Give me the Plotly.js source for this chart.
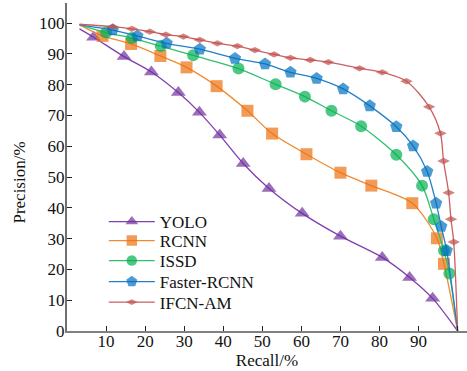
<!DOCTYPE html>
<html>
<head>
<meta charset="utf-8">
<script src="https://cdn.plot.ly/plotly-3.0.1.min.js"></script>
<style>html,body{margin:0;padding:0;background:#fff;}#chart{width:467px;height:371px;}</style>
</head>
<body>
<div id="chart"></div>
<script>
// Series names
var seriesNames = ["YOLO", "RCNN", "ISSD", "Faster-RCNN", "IFCN-AM"];

// YOLO
var yoloRecall    = [3.2, 6.8, 14.6, 21.6, 28.5, 33.9, 39.1, 45.1, 51.7, 60.2, 70.0, 80.7, 87.7, 93.6, 100];
var yoloPrecision = [98.1, 95.4, 89.1, 84.1, 77.4, 71.0, 63.6, 54.4, 46.3, 38.2, 30.8, 23.9, 17.4, 10.6, 0];

// RCNN
var rcnnRecall    = [3.2, 9.1, 16.4, 23.9, 30.6, 38.3, 46.2, 52.5, 61.3, 70.0, 77.9, 88.4, 94.7, 96.5, 100];
var rcnnPrecision = [99.4, 95.8, 93.2, 89.3, 85.6, 79.5, 71.5, 64.1, 57.4, 51.4, 47.2, 41.5, 30.1, 21.8, 0];

// ISSD
var issdRecall    = [3.2, 10.0, 16.6, 24.0, 32.3, 43.9, 53.4, 60.9, 67.7, 75.3, 84.3, 90.9, 93.9, 96.5, 97.9, 100];
var issdPrecision = [99.4, 96.9, 95.1, 92.5, 89.5, 85.2, 80.1, 76.1, 71.5, 66.5, 57.2, 47.2, 36.3, 26.1, 18.7, 0];

// Faster-RCNN
var frcnnRecall    = [3.2, 11.7, 18.0, 25.5, 34.0, 43.0, 50.7, 57.2, 63.9, 70.7, 77.5, 84.3, 88.6, 92.2, 94.5, 95.8, 97.2, 100];
var frcnnPrecision = [99.4, 97.7, 95.8, 93.4, 91.5, 88.5, 86.7, 84.0, 82.0, 78.6, 73.1, 66.3, 60.1, 51.8, 41.5, 33.9, 26.1, 0];

// IFCN-AM
var ifcnRecall    = [3.2, 11.7, 16.6, 21.2, 25.3, 29.8, 34.0, 38.5, 43.6, 48.1, 53.0, 57.2, 62.3, 66.9, 74.9, 80.7, 86.9, 92.7, 95.6, 96.4, 97.7, 98.3, 99.0, 100];
var ifcnPrecision = [99.6, 98.8, 98.1, 97.2, 96.2, 95.6, 94.5, 93.4, 92.5, 91.2, 89.8, 88.7, 88.0, 87.3, 85.3, 84.0, 81.1, 72.8, 64.2, 55.2, 44.9, 36.3, 28.9, 0];

// Tick values
var xTicks = [10, 20, 30, 40, 50, 60, 70, 80, 90, 100];
var yTicks = [0, 10, 20, 30, 40, 50, 60, 70, 80, 90, 100];

var font = "'Liberation Serif', 'Times New Roman', serif";

// marker sizes: no marker on the curve's start and end point
function sizes(n, s) {
  var a = [];
  for (var i = 0; i < n; i++) a.push(i === 0 || i === n - 1 ? 0 : s);
  return a;
}

function mk(x, y, name, color, lineColor, symbol, size, legendId) {
  return {
    x: x, y: y, name: name, type: "scatter", mode: "lines+markers",
    line: {color: lineColor, width: 1.3, shape: "spline", smoothing: 0.8},
    marker: {symbol: symbol, size: sizes(x.length, size), color: color, line: {width: 0}},
    cliponaxis: false,
    legend: legendId
  };
}

var data = [
  mk(yoloRecall, yoloPrecision, seriesNames[0], "#7030A0", "#7F3FB0", "triangle-up", 13, "legend"),
  mk(rcnnRecall, rcnnPrecision, seriesNames[1], "#ED7010", "#F18A30", "square", 12, "legend2"),
  mk(issdRecall, issdPrecision, seriesNames[2], "#00B050", "#30C070", "circle", 12, "legend3"),
  mk(frcnnRecall, frcnnPrecision, seriesNames[3], "#0070C0", "#2080CC", "pentagon", 13, "legend4"),
  mk(ifcnRecall, ifcnPrecision, seriesNames[4], "#C0504D", "#C86060", "diamond-wide", 9, "legend5")
];

function leg(yc) {
  return {
    x: 0.092, y: (331 - yc) / 328, xanchor: "left", yanchor: "middle",
    bgcolor: "rgba(0,0,0,0)", borderwidth: 0,
    font: {family: font, size: 17, color: "#111"},
    itemwidth: 46
  };
}

var layout = {
  width: 467, height: 371,
  margin: {l: 66.5, r: 0, t: 3, b: 40},
  paper_bgcolor: "#fff", plot_bgcolor: "#fff",
  font: {family: font, size: 17, color: "#111"},
  showlegend: true,
  legend: leg(222),
  legend2: leg(241),
  legend3: leg(261),
  legend4: leg(282),
  legend5: leg(302.5),
  xaxis: {
    range: [0, 102.4], tickvals: xTicks, ticks: "inside", ticklen: 5, tickcolor: "#222",
    showline: true, linecolor: "#808080", linewidth: 2, showgrid: false, zeroline: false,
    ticklabelstandoff: -6,
    tickfont: {family: font, size: 17, color: "#111"},
    title: {text: "Recall/%", font: {family: font, size: 17, color: "#111"}, standoff: 2}
  },
  yaxis: {
    range: [0, 106.5], tickvals: yTicks, ticks: "inside", ticklen: 5, tickcolor: "#222",
    showline: true, linecolor: "#707070", linewidth: 2, showgrid: false, zeroline: false,
    ticklabelstandoff: -3,
    tickfont: {family: font, size: 17, color: "#111"}
  },
  annotations: [{
    text: "Precision/%", xref: "paper", yref: "paper",
    x: (18 - 66.5) / 400.5, y: (331 - 183) / 328, xanchor: "center", yanchor: "middle",
    textangle: -90, showarrow: false,
    font: {family: font, size: 17, color: "#111"}
  }]
};

Plotly.newPlot("chart", data, layout, {displayModeBar: false, staticPlot: true});
</script>
</body>
</html>
